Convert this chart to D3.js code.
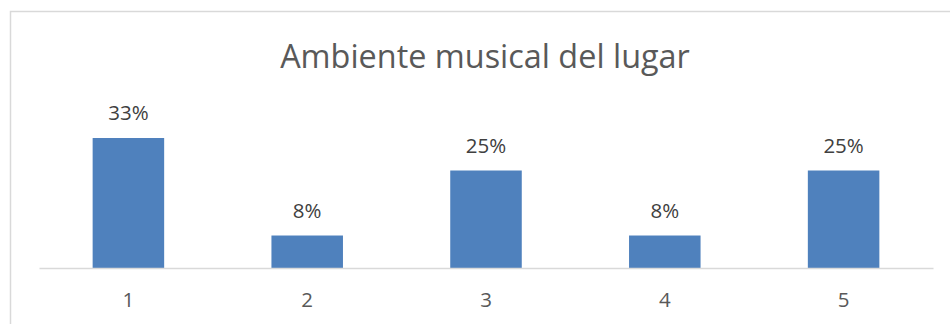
<!DOCTYPE html>
<html>
<head>
<meta charset="utf-8">
<script src="https://cdn.jsdelivr.net/npm/d3@7"></script>
<style>
  html, body { margin: 0; padding: 0; background: #fff; }
  text { font-family: "Open Sans", "Noto Sans", sans-serif; fill: #595959; }
</style>
</head>
<body>
<div id="chart"></div>
<script>
// chart data
var categories = ["1", "2", "3", "4", "5"];
var values = [0.3333, 0.0833, 0.25, 0.0833, 0.25];
var title = "Ambiente musical del lugar";

var width = 950,
    height = 324;

var svg = d3.select("#chart")
    .append("svg")
    .attr("width", width)
    .attr("height", height);

// outer frame (right and bottom edges fall outside the picture)
svg.append("rect")
    .attr("x", 10.5)
    .attr("y", 11.5)
    .attr("width", 1000)
    .attr("height", 400)
    .attr("fill", "none")
    .attr("stroke", "#d9d9d9")
    .attr("stroke-width", 1.5);

var x = d3.scaleBand()
    .domain(categories)
    .range([39, 933])
    .paddingInner(0.6)
    .paddingOuter(0.3);

var y = d3.scaleLinear()
    .domain([0, 0.4])
    .range([268, 112]);

svg.append("text")
    .attr("x", 485)
    .attr("y", 68)
    .attr("text-anchor", "middle")
    .style("font-size", "32.4px")
    .text(title);

var data = categories.map(function(c, i) { return {cat: c, val: values[i]}; });

svg.append("g")
    .selectAll("rect")
    .data(data)
    .enter().append("rect")
    .attr("x", function(d) { return x(d.cat); })
    .attr("y", function(d) { return y(d.val); })
    .attr("width", x.bandwidth())
    .attr("height", function(d) { return y(0) - y(d.val); })
    .attr("fill", "#4f81bd");

// value labels
svg.append("g")
    .selectAll("text")
    .data(data)
    .enter().append("text")
    .attr("x", function(d) { return x(d.cat) + x.bandwidth() / 2; })
    .attr("y", function(d) { return y(d.val) - 18; })
    .attr("text-anchor", "middle")
    .style("font-size", "20.5px")
    .style("fill", "#404040")
    .text(function(d) { return d3.format(".0%")(d.val); });

// category axis
var axis = svg.append("g")
    .attr("transform", "translate(0," + y(0) + ")")
    .call(d3.axisBottom(x).tickSize(0).tickPadding(0));

axis.select(".domain")
    .attr("stroke", "#d9d9d9")
    .attr("stroke-width", 1.5);

axis.selectAll(".tick text")
    .attr("dy", null)
    .attr("y", 39)
    .style("font-size", "20.5px")
    .style("font-family", "\"Open Sans\", \"Noto Sans\", sans-serif")
    .attr("fill", "#595959");
</script>
</body>
</html>
